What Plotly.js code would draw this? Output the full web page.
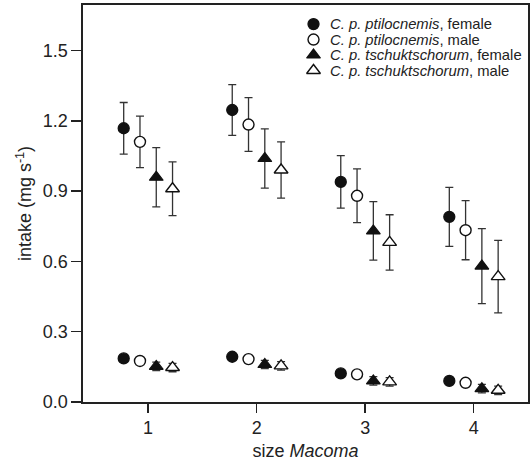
<!DOCTYPE html>
<html>
<head>
<meta charset="utf-8">
<script src="https://cdn.plot.ly/plotly-3.0.1.min.js"></script>
<style>
  html, body { margin: 0; padding: 0; background: #fff; }
  #chart { width: 530px; height: 464px; }
</style>
</head>
<body>
<div id="chart"></div>
<script>
// Prey size classes
const sizeClasses = [1, 2, 3, 4];
const tickLabels = ['1', '2', '3', '4'];

// Upper set of intake rates (mg s-1) with standard errors
const ptiloFemaleHigh = [1.168, 1.246, 0.939, 0.790];
const ptiloFemaleHighErr = [0.110, 0.108, 0.112, 0.126];
const ptiloMaleHigh = [1.110, 1.184, 0.880, 0.733];
const ptiloMaleHighErr = [0.110, 0.115, 0.115, 0.126];
const tschFemaleHigh = [0.959, 1.039, 0.730, 0.580];
const tschFemaleHighErr = [0.126, 0.126, 0.125, 0.160];
const tschMaleHigh = [0.910, 0.990, 0.681, 0.535];
const tschMaleHighErr = [0.115, 0.120, 0.118, 0.155];

// Lower set of intake rates (mg s-1) with standard errors
const ptiloFemaleLow = [0.186, 0.193, 0.122, 0.090];
const ptiloFemaleLowErr = [0.008, 0.008, 0.008, 0.008];
const ptiloMaleLow = [0.175, 0.183, 0.118, 0.082];
const ptiloMaleLowErr = [0.008, 0.008, 0.008, 0.008];
const tschFemaleLow = [0.152, 0.160, 0.090, 0.057];
const tschFemaleLowErr = [0.018, 0.018, 0.018, 0.018];
const tschMaleLow = [0.147, 0.154, 0.086, 0.050];
const tschMaleLowErr = [0.018, 0.018, 0.018, 0.018];

const seriesNames = [
  '<i>C. p. ptilocnemis</i>, female',
  '<i>C. p. ptilocnemis</i>, male',
  '<i>C. p. tschuktschorum</i>, female',
  '<i>C. p. tschuktschorum</i>, male'
];

// Marker styles per series: females solid, males white-filled outlines
const styles = [
  { symbol: 'circle', size: 11, color: '#111', line: { color: '#111', width: 1.3 } },
  { symbol: 'circle', size: 11, color: '#fff', line: { color: '#111', width: 1.4 } },
  { symbol: 'triangle-up', size: 12, color: '#111', line: { color: '#111', width: 1.2 } },
  { symbol: 'triangle-up', size: 12, color: '#fff', line: { color: '#111', width: 1.4 } }
];
const dodge = [-0.225, -0.075, 0.075, 0.225];

const highSets = [
  [ptiloFemaleHigh, ptiloFemaleHighErr],
  [ptiloMaleHigh, ptiloMaleHighErr],
  [tschFemaleHigh, tschFemaleHighErr],
  [tschMaleHigh, tschMaleHighErr]
];
const lowSets = [
  [ptiloFemaleLow, ptiloFemaleLowErr],
  [ptiloMaleLow, ptiloMaleLowErr],
  [tschFemaleLow, tschFemaleLowErr],
  [tschMaleLow, tschMaleLowErr]
];

const traces = [];
[highSets, lowSets].forEach(function (sets) {
  sets.forEach(function (pair, i) {
    traces.push({
      type: 'scatter',
      mode: 'markers',
      x: sizeClasses.map(function (s) { return s + dodge[i]; }),
      y: pair[0],
      name: seriesNames[i],
      showlegend: false,
      cliponaxis: false,
      marker: styles[i],
      error_y: { type: 'data', array: pair[1], visible: true, color: '#333', thickness: 1.3, width: 4 }
    });
  });
});

// Key: one marker per series on a unit overlay axis, with text beside it
const keyX = 0.518, keyTextX = 0.550, keyTop = 0.952, keyStep = 0.039;
const annotations = [];
seriesNames.forEach(function (name, i) {
  const yk = keyTop - i * keyStep;
  traces.push({
    type: 'scatter', mode: 'markers', xaxis: 'x2', yaxis: 'y2',
    x: [keyX], y: [yk], showlegend: false, hoverinfo: 'skip',
    marker: styles[i]
  });
  annotations.push({
    xref: 'paper', yref: 'paper', x: keyTextX, y: yk,
    xanchor: 'left', yanchor: 'middle', showarrow: false,
    text: name, font: { family: 'Liberation Sans, Arial, sans-serif', size: 14.8, color: '#222' }
  });
});

const axisFont = { family: 'Liberation Sans, Arial, sans-serif', size: 18, color: '#222' };

const layout = {
  width: 530,
  height: 464,
  margin: { l: 83, r: 2, t: 5, b: 62 },
  paper_bgcolor: '#fff',
  plot_bgcolor: '#fff',
  showlegend: false,
  font: axisFont,
  xaxis: {
    range: [0.4, 4.5],
    tickvals: sizeClasses,
    ticktext: tickLabels,
    ticks: 'outside', ticklen: 9, tickwidth: 1.5, tickcolor: '#222',
    showline: true, linewidth: 1.6, linecolor: '#222', mirror: true,
    showgrid: false, zeroline: false,
    tickfont: axisFont,
    title: { text: 'size <i>Macoma</i>', font: axisFont, standoff: 7 }
  },
  yaxis: {
    range: [0, 1.694],
    tickvals: [0, 0.3, 0.6, 0.9, 1.2, 1.5],
    ticktext: ['0.0', '0.3', '0.6', '0.9', '1.2', '1.5'],
    ticks: 'outside', ticklen: 10, tickwidth: 1.5, tickcolor: '#222',
    showline: true, linewidth: 1.6, linecolor: '#222', mirror: true,
    showgrid: false, zeroline: false,
    tickfont: axisFont,
    title: { text: 'intake (mg s<sup>-1</sup>)', font: axisFont, standoff: 6 }
  },
  xaxis2: { domain: [0, 1], range: [0, 1], overlaying: 'x', anchor: 'y2', visible: false, fixedrange: true },
  yaxis2: { domain: [0, 1], range: [0, 1], overlaying: 'y', anchor: 'x2', visible: false, fixedrange: true },
  annotations: annotations
};

Plotly.newPlot('chart', traces, layout, { staticPlot: true, displayModeBar: false });
</script>
</body>
</html>
